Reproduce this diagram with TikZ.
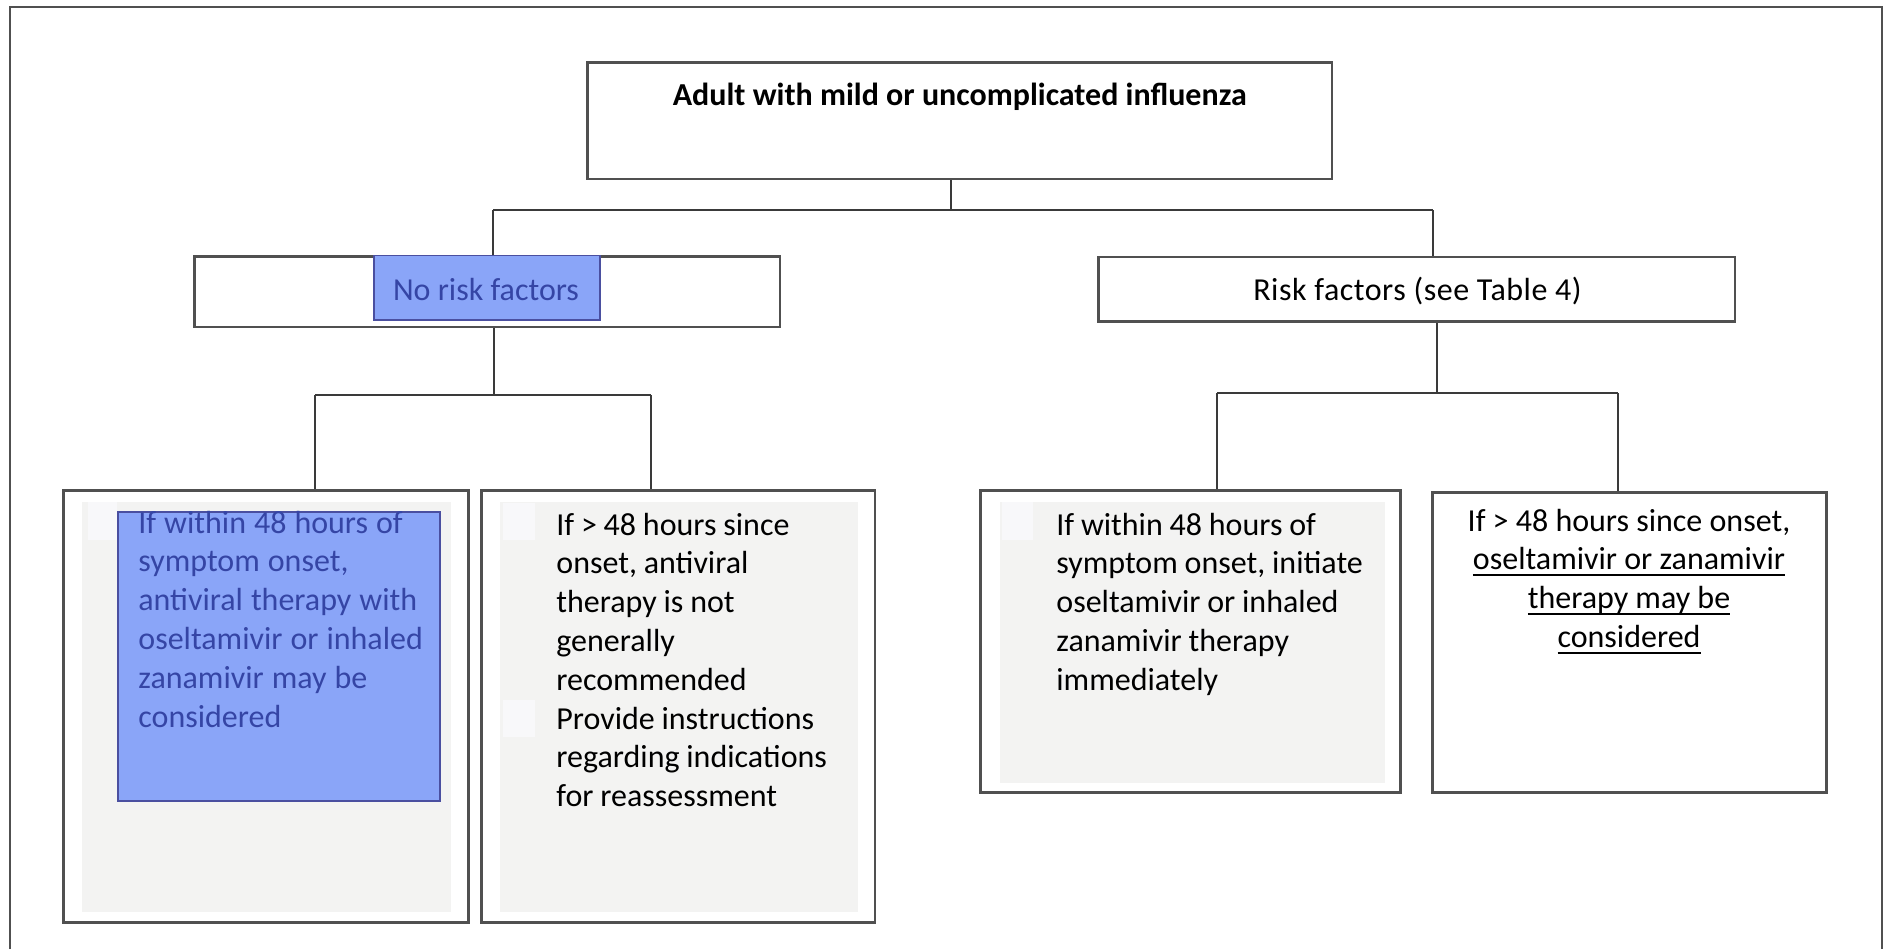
\documentclass[tikz,border=0pt]{standalone}
\usepackage{fontspec}
\setmainfont{Carlito}
\newsavebox\ulbox
\newcommand\myul[1]{\leavevmode\sbox\ulbox{#1}\rlap{\rule[-3.2pt]{\wd\ulbox}{1.1pt}}\usebox\ulbox}
\newcommand\tspA{\spaceskip=4.0pt\relax\xspaceskip=4.0pt\relax}
\newcommand\tspB{\spaceskip=3.4pt\relax\xspaceskip=3.4pt\relax}
\newcommand\tspC{\spaceskip=3.6pt\relax\xspaceskip=3.6pt\relax}
\definecolor{linec}{HTML}{505050}
\definecolor{conc}{HTML}{3A3A3A}
\definecolor{panel}{HTML}{F3F3F2}
\definecolor{hlfill}{HTML}{8AA5F8}
\definecolor{hlborder}{HTML}{4A4FA0}
\definecolor{hltext}{HTML}{3545A5}
\definecolor{sq}{HTML}{F8F8FA}
\tikzset{
  boxnode/.style={draw=linec, line width=1.3pt, fill=white, rectangle, inner sep=0pt},
  conn/.style={draw=conc, line width=1pt},
  txt/.style={inner sep=0pt, font=\fontsize{16}{19.4}\selectfont, text=black},
  hl/.style={fill=hlfill, draw=hlborder, line width=0.9pt},
  pan/.style={fill=panel, draw=none},
}
\begin{document}
\begin{tikzpicture}[x=0.5pt,y=-0.5pt]
\useasboundingbox (0,0) rectangle (1885,949);
% outer frame (open at bottom)
\draw[draw=linec, line width=1.3pt] (10,949) -- (10,7) -- (1882,7) -- (1882,949);

% boxes
\node[boxnode, minimum width=372.25pt, minimum height=58.25pt] (main) at (959.75,120.75) {};
\node[boxnode, minimum width=292.75pt, minimum height=35.25pt] (norisk) at (487.25,291.75) {};
\node[boxnode, minimum width=318.1pt, minimum height=32.35pt] (risk) at (1416.7,289.35) {};
\node[boxnode, minimum width=202.5pt, minimum height=216pt] (b1) at (265.8,706.7) {};
\node[boxnode, minimum width=196.65pt, minimum height=216pt] (b2) at (678.35,706.7) {};
\node[boxnode, minimum width=209.95pt, minimum height=151pt] (b3) at (1190.65,641.7) {};
\node[boxnode, minimum width=197pt, minimum height=150pt] (b4) at (1629.7,642.7) {};

% grey panels and faint squares
\fill[pan] (81.7,501.7) rectangle (450.7,911.7);
\fill[pan] (500,501.7) rectangle (858.3,911.7);
\fill[pan] (1000,501.7) rectangle (1385,783.3);
\fill[sq] (87.7,502) rectangle (116.7,540);
\fill[sq] (503,503) rectangle (535,540);
\fill[sq] (503,700) rectangle (535,737);
\fill[sq] (1001.7,502) rectangle (1033,540);

% highlights
\path[hl] (374,255.5) rectangle (600,320);
\path[hl] (118.3,511.7) rectangle (440,800.7);

% connectors
\coordinate (t0) at (951,210);
\coordinate (tL) at (493,210);
\coordinate (tR) at (1433,210);
\draw[conn] (main.south -| t0) -- (t0);
\draw[conn] (tL) -- (tR);
\draw[conn] (tL) -- (tL |- norisk.north);
\draw[conn] (tR) -- (tR |- risk.north);

\coordinate (jL) at (494,395);
\coordinate (jL1) at (315,395);
\coordinate (jL2) at (651,395);
\draw[conn] (norisk.south -| jL) -- (jL);
\draw[conn] (jL1) -- (jL2);
\draw[conn] (jL1) -- (jL1 |- b1.north);
\draw[conn] (jL2) -- (jL2 |- b2.north);

\coordinate (jR) at (1437,393);
\coordinate (jR1) at (1217,393);
\coordinate (jR2) at (1618,393);
\draw[conn] (risk.south -| jR) -- (jR);
\draw[conn] (jR1) -- (jR2);
\draw[conn] (jR1) -- (jR1 |- b3.north);
\draw[conn] (jR2) -- (jR2 |- b4.north);

% texts
\node[txt, anchor=base, font=\fontsize{16}{19.4}\selectfont\bfseries] (ttl) at (959.75,105) {Adult with mild or uncomplicated influenza};
\node[txt, anchor=base, text=hltext] (nrt) at (486,300) {No risk factors};
\node[txt, anchor=base] (rt) at (1417.5,300) {\addfontfeature{LetterSpace=1.6}Risk factors (see Table 4)};

\node[txt, anchor=base west, text width=170pt, align=left, text=hltext] (t1) at (138,533)
  {\tspA If within 48 hours of\\symptom onset,\\antiviral therapy with\\oseltamivir or inhaled\\zanamivir may be\\considered};
\node[txt, anchor=base west, text width=170pt, align=left] (t2) at (556,535)
  {\tspB If > 48 hours since\\onset, antiviral\\therapy is not\\generally\\recommended\\Provide instructions\\regarding indications\\for reassessment};
\node[txt, anchor=base west, text width=170pt, align=left] (t3) at (1056,535)
  {\tspB If within 48 hours of\\symptom onset, initiate\\oseltamivir or inhaled\\zanamivir therapy\\immediately};
\node[txt, anchor=base, text width=190pt, align=center] (t4) at (1629,531)
  {\tspC If > 48 hours since onset,\\\myul{oseltamivir or zanamivir}\\\myul{therapy may be}\\\myul{considered}};
\end{tikzpicture}
\end{document}
